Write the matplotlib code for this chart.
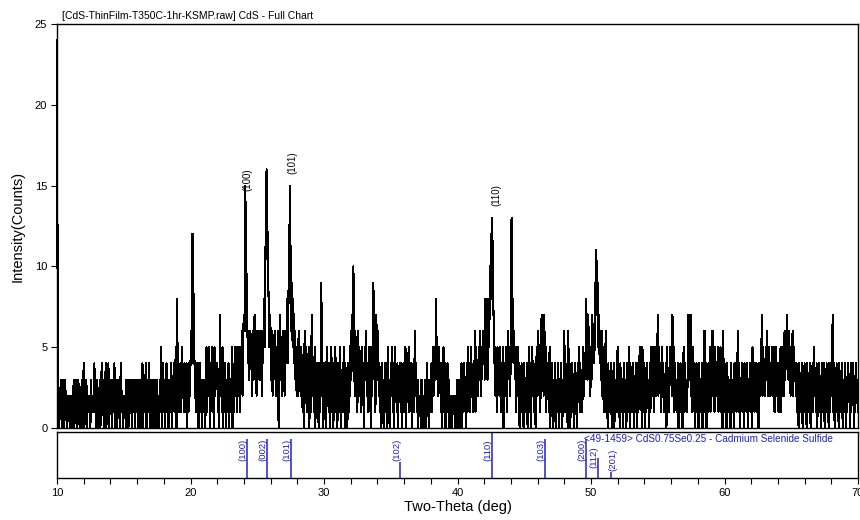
import matplotlib
matplotlib.use("Agg")
import matplotlib.pyplot as plt
import numpy as np

plt.rcParams['font.family'] = ['Liberation Sans', 'DejaVu Sans']

# ---------------- data ----------------
scan_start = 10.0      # deg 2-theta
scan_step = 0.05       # deg per point
# counts, one character per step (0-9, A=10 ... O=24), groups of 8, one string per 2 deg
counts_10_20 = ["O7302130 23103210 21202120 13021302 31021302",
                "40213021 12031212 41203021 30241303 24031403",
                "13023140 32031203 41202120 31302313 03213023",
                "13021302 40312403 12403120 31032031 20315024",
                "13024130 23140324 13508231 24152314 13403142"]
counts_20_30 = ["464CA643 14240341 30231302 51425042 51405234",
                "41307231 50314023 14032150 31452515 25153626",
                "76FC9746 36452635 73526463 53626485 9EGDA857",
                "63625364 25360573 52635264 5849BFA6 95846352",
                "52634253 14062514 25031572 41503142 04139240"]
counts_30_40 = ["31405231 40351403 25140341 50324150 42304132",
                "6374A626 35162534 15240536 24152405 26935176",
                "36241304 23041240 51304251 40523140 32414034",
                "14503245 14240341 62413021 20312021 30412031",
                "24152453 83525341 40351403 24130212 02120120"]
counts_40_50 = ["31203140 31423041 52415231 42615342 53625364",
                "53846385 7A8CD974 52415342 51425034 25146352",
                "6D964635 14524031 42304132 40351403 52413045",
                "26351473 52735142 41503140 31402314 03142031",
                "62413061 40324130 41304251 42315243 58357352"]
counts_50_60 = ["53746497 B7957463 62514261 30413140 32403124",
                "51304213 04123041 35042314 03142041 35240531",
                "40314230 41524513 52437253 41524132 40523153",
                "42735142 31403241 30451423 14734724 15240341",
                "30423140 31624031 42514362 41534251 42513062"]
counts_60_70 = ["41304231 30412304 24136140 32413042 31403241",
                "30523142 41304234 72534253 62452435 24513524",
                "31425143 52635473 64525362 53424130 42314032",
                "41304231 40324152 31403241 30412403 14230413",
                "42714032 41304231 40312403 14230413 240314231"]

main_hkl = ["(100)", "(101)", "(110)"]
main_hkl_x = [24.29, 27.63, 42.93]
main_hkl_y = [15.35, 16.4, 14.4]

ref_hkl = ["(100)", "(002)", "(101)", "(102)", "(110)", "(103)", "(200)", "(112)", "(201)"]
ref_two_theta = [24.2, 25.72, 27.5, 35.73, 42.57, 46.55, 49.62, 50.55, 51.48]
ref_intensity = [85, 85, 85, 35, 98, 85, 85, 43, 13]
ref_label_y = [61, 61, 61, 61, 61, 61, 61, 46, 39]
ref_label_dx = [-0.3, -0.3, -0.3, -0.3, -0.3, -0.3, -0.3, -0.3, 0.15]
ref_card = "<49-1459> CdS0.75Se0.25 - Cadmium Selenide Sulfide"
title = "[CdS-ThinFilm-T350C-1hr-KSMP.raw] CdS - Full Chart"

# ---------------- build series ----------------
two_theta, counts = [], []
for b, block in enumerate([counts_10_20, counts_20_30, counts_30_40,
                           counts_40_50, counts_50_60, counts_60_70]):
    for s, seg in enumerate(block):
        seg = seg.replace(" ", "")
        seg_start = scan_start + 10 * b + 2 * s
        for j, ch in enumerate(seg):
            two_theta.append(seg_start + scan_step * j)
            counts.append(int(ch, 36))
two_theta = np.array(two_theta)
counts = np.array(counts)

blue = '#2020c8'

fig = plt.figure(figsize=(8.6, 5.2), dpi=100)
ax = fig.add_axes([57 / 860, 92 / 520, 801 / 860, 404 / 520])
ax.plot(two_theta, counts, color='black', lw=0.8, antialiased=False, clip_on=False)
ax.set_xlim(10, 70)
ax.set_ylim(0, 25)
ax.set_xticks([])
ax.set_yticks([0, 5, 10, 15, 20, 25])
ax.tick_params(axis='y', direction='out', length=4, width=0.8, labelsize=8, pad=3)
for sp in ax.spines.values():
    sp.set_linewidth(1.0)
for t, x, y in zip(main_hkl, main_hkl_x, main_hkl_y):
    ax.text(x, y, t, rotation=90, ha='center', va='center', fontsize=7, color='black')
ax.set_ylabel("Intensity(Counts)", fontsize=10.5)
ax.yaxis.set_label_coords(-0.041, 0.5)
fig.text(62 / 860, 1 - 16 / 520, title, ha='left', va='center', fontsize=7.5)

axr = fig.add_axes([57 / 860, 42 / 520, 801 / 860, 46 / 520])
axr.set_xlim(10, 70)
axr.set_ylim(0, 100)
axr.vlines(ref_two_theta, 0, ref_intensity, color=blue, lw=1.1)
for t, x, y, dx in zip(ref_hkl, ref_two_theta, ref_label_y, ref_label_dx):
    axr.text(x + dx, y, t, rotation=90, ha='center', va='center', fontsize=6.8, color=blue)
axr.text(49.45, 84, ref_card, ha='left', va='center', fontsize=7.2, color=blue)
axr.set_yticks([])
axr.set_xticks(range(10, 71, 10))
axr.set_xticks(np.arange(10, 71, 2), minor=True)
axr.tick_params(axis='x', which='both', direction='out', length=4, width=0.8, labelsize=8, pad=3)
for sp in axr.spines.values():
    sp.set_linewidth(1.0)
axr.set_xlabel("Two-Theta (deg)", fontsize=10.5, labelpad=2)

fig.savefig("out.png", dpi=100)
